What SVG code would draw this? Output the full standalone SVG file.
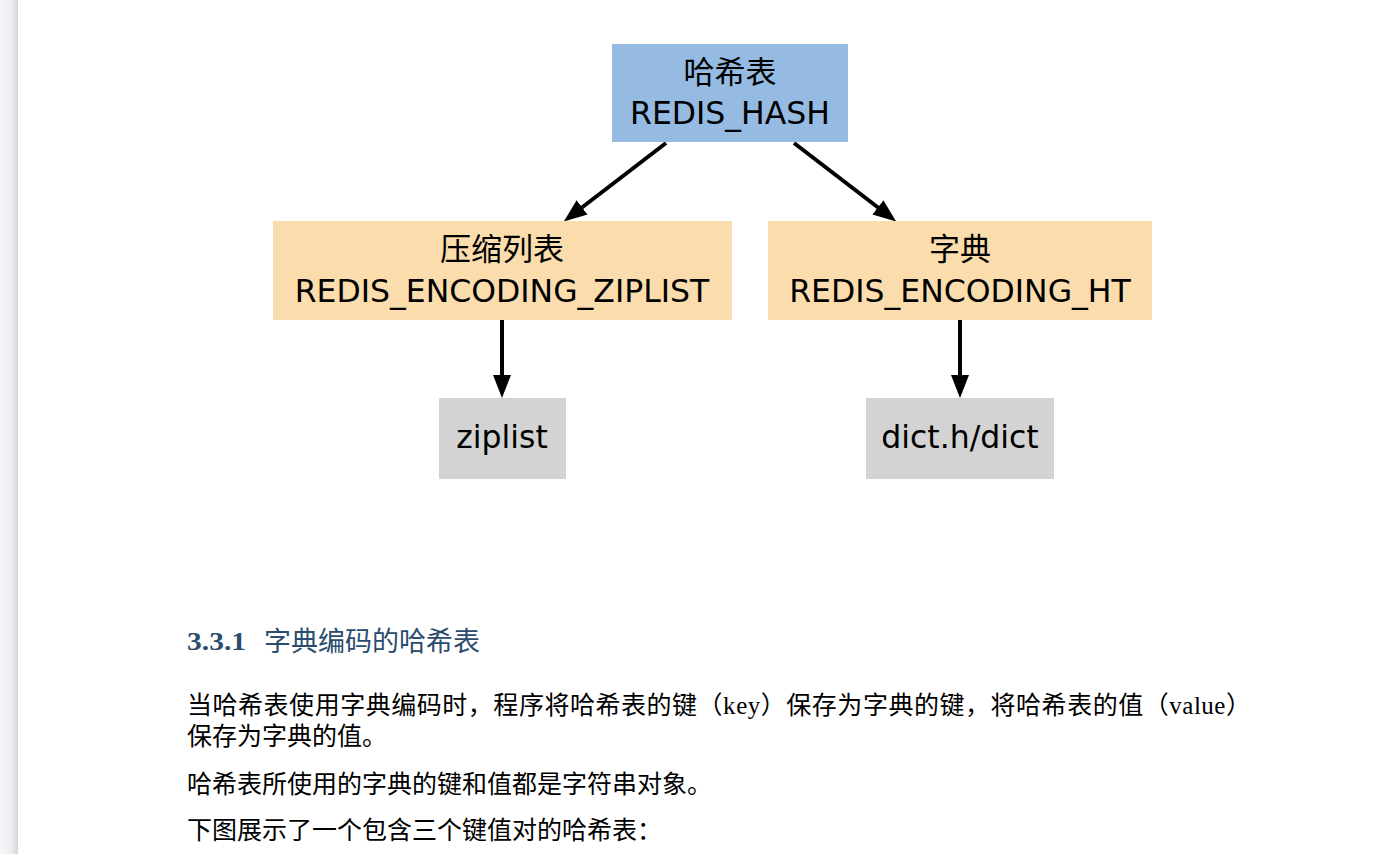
<svg xmlns="http://www.w3.org/2000/svg" width="1394" height="854" viewBox="0 0 1394 854">
<defs>
<linearGradient id="edge" x1="0" y1="0" x2="1" y2="0">
<stop offset="0" stop-color="#f4f6f8"/>
<stop offset="0.6" stop-color="#eceef1"/>
<stop offset="1" stop-color="#d6d6d6"/>
</linearGradient>
<marker id="ah" markerUnits="userSpaceOnUse" viewBox="0 0 23 18" markerWidth="23" markerHeight="18" refX="1" refY="9" orient="auto">
<path d="M0,0 L23,9 L0,18 z" fill="#000"/>
</marker>
</defs>
<style>
.node text{font-family:"DejaVu Sans","Noto Sans CJK SC",sans-serif;font-size:31.5px;fill:#000;text-anchor:middle}
.node text.cjk{font-size:31px}
.blue{fill:#95bbe3}
.orange{fill:#fadcad}
.gray{fill:#d3d3d3}
.edge{stroke:#000;stroke-width:4;fill:none;marker-end:url(#ah)}
.body{font-family:"Noto Sans CJK SC",sans-serif;font-size:25px;fill:#000}
.latin{font-family:"Liberation Serif",serif}
.head{fill:#2b4c6d}
</style>
<rect x="0" y="0" width="1394" height="854" fill="#fff"/>
<rect x="0" y="0" width="18" height="854" fill="url(#edge)"/>

<g id="connectors">
<line class="edge" x1="666" y1="143" x2="581.3" y2="208"/>
<line class="edge" x1="794" y1="143" x2="878.7" y2="208"/>
<line class="edge" x1="502" y1="320" x2="502" y2="376"/>
<line class="edge" x1="960" y1="320" x2="960" y2="376"/>
</g>

<g id="hash" class="node">
<rect class="blue" x="612" y="44" width="236" height="98"/>
<text class="cjk" x="730" y="83">哈希表</text>
<text x="730" y="124">REDIS_HASH</text>
</g>
<g id="ziplist_enc" class="node">
<rect class="orange" x="273" y="221" width="459" height="99"/>
<text class="cjk" x="502" y="260">压缩列表</text>
<text x="502" y="302">REDIS_ENCODING_ZIPLIST</text>
</g>
<g id="ht_enc" class="node">
<rect class="orange" x="768" y="221" width="384" height="99"/>
<text class="cjk" x="960" y="260">字典</text>
<text x="960" y="302">REDIS_ENCODING_HT</text>
</g>
<g id="ziplist" class="node">
<rect class="gray" x="439" y="398" width="127" height="81"/>
<text x="502" y="448">ziplist</text>
</g>
<g id="dict" class="node">
<rect class="gray" x="866" y="398" width="188" height="81"/>
<text x="960" y="448">dict.h/dict</text>
</g>

<g id="text">
<text class="head" x="187" y="650" font-family="Liberation Serif,serif" font-weight="bold" font-size="26" textLength="59" lengthAdjust="spacingAndGlyphs">3.3.1</text>
<text class="head" x="264" y="651" font-family="Noto Sans CJK SC,sans-serif" font-size="27">字典编码的哈希表</text>
<text class="body" x="187" y="714" textLength="1064" lengthAdjust="spacing">当哈希表使用字典编码时，程序将哈希表的键（<tspan class="latin">key</tspan>）保存为字典的键，将哈希表的值（<tspan class="latin">value</tspan>）</text>
<text class="body" x="187" y="745">保存为字典的值。</text>
<text class="body" x="187" y="793">哈希表所使用的字典的键和值都是字符串对象。</text>
<text class="body" x="187" y="839">下图展示了一个包含三个键值对的哈希表：</text>
</g>
</svg>
